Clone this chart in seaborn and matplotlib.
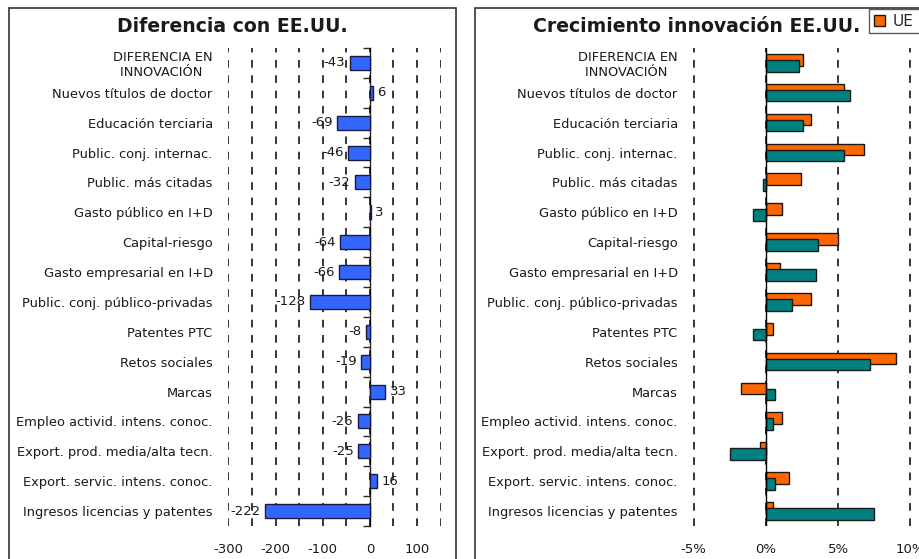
"""Innovación: diferencia con EE.UU. y crecimiento UE vs EE.UU."""
import numpy as np
import pandas as pd
import matplotlib
matplotlib.use('Agg')
import matplotlib.pyplot as plt
from matplotlib.patches import Rectangle
import seaborn as sns

categorias = [
    "DIFERENCIA EN\nINNOVACIÓN ",
    "Nuevos títulos de doctor",
    "Educación terciaria",
    "Public. conj. internac.",
    "Public. más citadas",
    "Gasto público en I+D",
    "Capital-riesgo",
    "Gasto empresarial en I+D",
    "Public. conj. público-privadas",
    "Patentes PTC",
    "Retos sociales",
    "Marcas",
    "Empleo activid. intens. conoc.",
    "Export. prod. media/alta tecn.",
    "Export. servic. intens. conoc.",
    "Ingresos licencias y patentes",
]
diferencia = [-43, 6, -69, -46, -32, 3, -64, -66, -128, -8, -19, 33, -26, -25, 16, -222]
crec_ue = [2.6, 5.4, 3.1, 6.8, 2.4, 1.1, 5.0, 1.0, 3.1, 0.5, 9.0, -1.7, 1.1, -0.4, 1.6, 0.5]
crec_eeuu = [2.3, 5.8, 2.6, 5.4, -0.2, -0.9, 3.6, 3.5, 1.8, -0.9, 7.2, 0.6, 0.5, -2.5, 0.6, 7.5]
series = ["UE", "EE.UU."]

ticks_dif = [-300, -250, -200, -150, -100, -50, 0, 50, 100, 150]
labels_dif = ["-300", "", "-200", "", "-100", "", "0", "", "100", ""]
ticks_crec = [-5, 0, 5, 10]
labels_crec = ["-5%", "0%", "5%", "10%"]

sns.set_style('white')
plt.rcParams['font.family'] = ['DejaVu Sans']

AZUL = '#3366FF'
NARANJA = '#FF6600'
VERDE = '#008080'
TXT = '#1a1a1a'
dash = (0, (5, 5))

fig = plt.figure(figsize=(9.2, 5.59), dpi=100)
W, H = 920, 559

# panel frames
fig.add_artist(Rectangle((9 / W, -0.05), (456 - 9) / W, 1.05 - 8 / H,
                         transform=fig.transFigure, fill=False, ec='#333333', lw=1.2))
fig.add_artist(Rectangle((475 / W, -0.05), 0.5, 1.05 - 8 / H,
                         transform=fig.transFigure, fill=False, ec='#333333', lw=1.2))

bottom = (H - 526) / H
height = 478 / H
ax1 = fig.add_axes([228 / W, bottom, (441 - 228) / W, height])
ax2 = fig.add_axes([693 / W, bottom, (911 - 693) / W, height])

# ---- left: diferencia con EE.UU.
df1 = pd.DataFrame({'cat': categorias, 'val': diferencia})
sns.barplot(data=df1, y='cat', x='val', orient='h', color=AZUL, width=0.47,
            saturation=1, edgecolor='#1a1a40', linewidth=1, ax=ax1)
ax1.bar_label(ax1.containers[0], fmt='%d', padding=3, fontsize=9.5, color=TXT)
xmin, xmax = ticks_dif[0] - 1, ticks_dif[-1] + 1
ax1.set_xlim(xmin, xmax)
ax1.set_ylim(len(categorias) - 0.5, -0.5)
ax1.set_xticks(ticks_dif)
ax1.set_xticklabels(labels_dif)
ax1.grid(axis='x', color='black', linestyle=dash, lw=1.1)
ax1.set_axisbelow(True)

sec = ax1.secondary_yaxis((0 - xmin) / (xmax - xmin))
sec.set_yticks(np.arange(-0.5, len(categorias), 1))
sec.tick_params(axis='y', direction='in', length=5, width=1, labelright=False, labelleft=False)
for s in sec.spines.values():
    s.set_linewidth(1)

# ---- right: crecimiento
df2 = pd.DataFrame({
    'cat': categorias * 2,
    'val': crec_ue + crec_eeuu,
    'serie': [series[0]] * len(categorias) + [series[1]] * len(categorias),
})
sns.barplot(data=df2, y='cat', x='val', hue='serie', orient='h',
            palette=[NARANJA, VERDE], width=0.6, saturation=1,
            edgecolor='#1a1a1a', linewidth=1, ax=ax2, legend=True)
# overlapping bars, like the original
for p in ax2.containers[0]:
    p.set_height(0.39)
for p in ax2.containers[1]:
    p.set_y(p.get_y() - 0.1)
    p.set_height(0.39)
ax2.set_xlim(ticks_crec[0] - 0.05, ticks_crec[-1] + 0.05)
ax2.set_ylim(len(categorias) - 0.5, -0.5)
ax2.set_xticks(ticks_crec)
ax2.set_xticklabels(labels_crec)
ax2.grid(axis='x', color='black', linestyle=dash, lw=1.1)
ax2.set_axisbelow(True)
ax2.axvline(0, color='black', lw=1, zorder=1)

handles, labs = ax2.get_legend_handles_labels()
ax2.legend(handles, labs, loc='upper left', bbox_to_anchor=(869 / W, 1 - 9 / H),
           bbox_transform=fig.transFigure, ncol=2, frameon=True, fancybox=False,
           edgecolor='#333333', fontsize=11, handlelength=0.75, handleheight=0.75,
           handletextpad=0.5, borderpad=0.3, borderaxespad=0, columnspacing=1.0)
ax2.get_legend().get_frame().set_linewidth(1)

for ax in (ax1, ax2):
    ax.set_xlabel('')
    ax.set_ylabel('')
    for s in ax.spines.values():
        s.set_visible(False)
    ax.tick_params(axis='y', length=0, pad=11, labelsize=9.4, labelcolor=TXT)
    ax.tick_params(axis='x', length=0, pad=12, labelsize=9.5, labelcolor=TXT)
    for t in ax.get_yticklabels():
        t.set_multialignment('center')

fig.text(232 / W, 1 - 26 / H, 'Diferencia con EE.UU.', ha='center', va='center',
         fontsize=13.6, fontweight='bold', color=TXT)
fig.text(697 / W, 1 - 26 / H, 'Crecimiento innovación EE.UU.', ha='center', va='center',
         fontsize=13.6, fontweight='bold', color=TXT)

fig.savefig('out.png', dpi=100)
plt.close(fig)
